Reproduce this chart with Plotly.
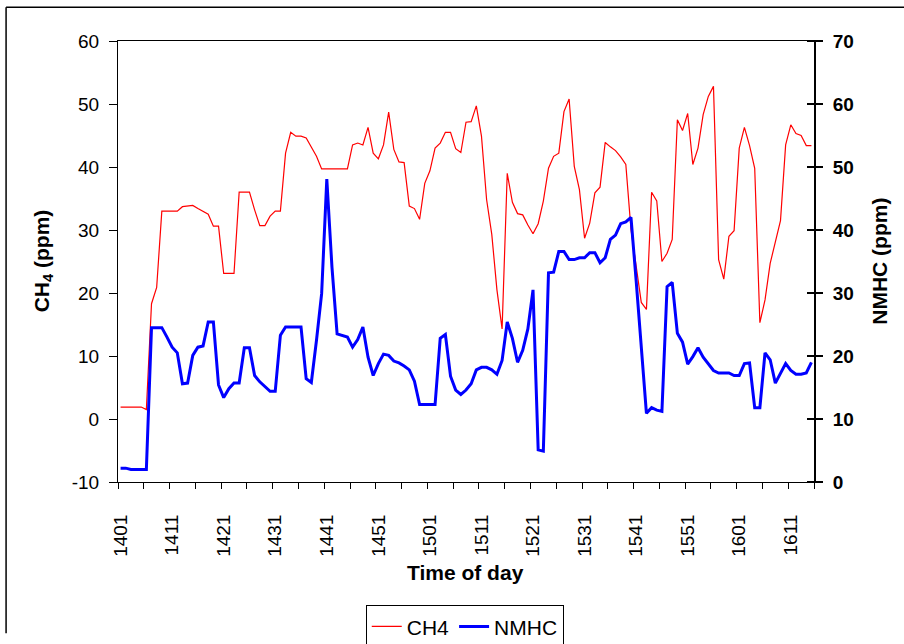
import plotly.graph_objects as go

# ---- data ----
times = [
    "1401","1402","1403","1404","1405","1406","1407","1408","1409","1410",
    "1411","1412","1413","1414","1415","1416","1417","1418","1419","1420",
    "1421","1422","1423","1424","1425","1426","1427","1428","1429","1430",
    "1431","1432","1433","1434","1435","1436","1437","1438","1439","1440",
    "1441","1442","1443","1444","1445","1446","1447","1448","1449","1450",
    "1451","1452","1453","1454","1455","1456","1457","1458","1459","1500",
    "1501","1502","1503","1504","1505","1506","1507","1508","1509","1510",
    "1511","1512","1513","1514","1515","1516","1517","1518","1519","1520",
    "1521","1522","1523","1524","1525","1526","1527","1528","1529","1530",
    "1531","1532","1533","1534","1535","1536","1537","1538","1539","1540",
    "1541","1542","1543","1544","1545","1546","1547","1548","1549","1550",
    "1551","1552","1553","1554","1555","1556","1557","1558","1559","1600",
    "1601","1602","1603","1604","1605","1606","1607","1608","1609","1610",
    "1611","1612","1613","1614","1615",
]

ch4 = [
    1.9, 1.9, 1.9, 1.9, 1.9, 1.5, 18.3, 20.9, 33.0, 33.0,
    33.0, 33.0, 33.7, 33.8, 33.9, 33.4, 33.0, 32.5, 30.6, 30.6,
    23.1, 23.1, 23.1, 36.0, 36.0, 36.0, 33.2, 30.7, 30.7, 32.2,
    33.0, 33.0, 42.2, 45.5, 44.9, 44.9, 44.6, 43.2, 41.7, 39.7,
    39.7, 39.7, 39.7, 39.7, 39.7, 43.5, 43.8, 43.5, 46.3, 42.2,
    41.3, 43.5, 48.7, 42.8, 40.8, 40.7, 33.8, 33.4, 31.7, 37.4,
    39.4, 43.0, 43.8, 45.5, 45.5, 42.9, 42.3, 47.1, 47.2, 49.7,
    44.9, 34.8, 29.3, 20.5, 14.3, 39.0, 34.4, 32.6, 32.4, 30.8,
    29.4, 31.0, 34.6, 39.8, 41.7, 42.2, 48.8, 50.8, 40.1, 36.4,
    28.7, 31.1, 35.9, 36.8, 43.9, 43.2, 42.6, 41.6, 40.4, 30.1,
    24.2, 18.5, 17.4, 36.0, 34.6, 25.0, 26.3, 28.5, 47.5, 45.8,
    48.5, 40.4, 43.0, 48.3, 51.2, 52.8, 25.3, 22.2, 29.0, 29.9,
    43.0, 46.3, 43.4, 39.8, 15.3, 18.9, 24.7, 28.2, 31.5, 43.5,
    46.7, 45.3, 45.0, 43.4, 43.4,
]

nmhc = [
    2.2, 2.2, 2.0, 2.0, 2.0, 2.0, 24.5, 24.5, 24.5, 23.0,
    21.4, 20.5, 15.6, 15.7, 20.1, 21.4, 21.6, 25.4, 25.4, 15.4,
    13.4, 14.8, 15.7, 15.7, 21.3, 21.3, 16.9, 15.9, 15.2, 14.4,
    14.4, 23.3, 24.6, 24.6, 24.6, 24.6, 16.4, 15.8, 22.5, 29.9,
    48.1, 34.1, 23.5, 23.3, 23.0, 21.4, 22.6, 24.6, 19.8, 16.9,
    18.8, 20.3, 20.1, 19.2, 18.9, 18.4, 17.8, 16.0, 12.3, 12.3,
    12.3, 12.3, 22.8, 23.4, 16.8, 14.6, 13.9, 14.6, 15.6, 17.8,
    18.2, 18.2, 17.8, 17.1, 19.3, 25.4, 22.8, 19.0, 20.9, 24.3,
    30.5, 5.1, 4.9, 33.2, 33.3, 36.6, 36.6, 35.3, 35.3, 35.6,
    35.6, 36.4, 36.4, 34.8, 35.6, 38.5, 39.2, 41.0, 41.3, 42.0,
    32.0, 22.0, 10.9, 11.8, 11.4, 11.2, 31.0, 31.7, 23.6, 22.2,
    18.7, 19.9, 21.3, 19.8, 18.8, 17.7, 17.3, 17.3, 17.3, 16.9,
    16.9, 18.8, 18.9, 11.8, 11.8, 20.5, 19.4, 15.7, 17.3, 18.8,
    17.7, 17.1, 17.1, 17.3, 19.0,
]

tick_labels = ["1401", "1411", "1421", "1431", "1441", "1451", "1501",
               "1511", "1521", "1531", "1541", "1551", "1601", "1611"]
left_ticks = [-10, 0, 10, 20, 30, 40, 50, 60]
left_tick_text = ["-10", "0", "10", "20", "30", "40", "50", "60"]
right_ticks = [0, 10, 20, 30, 40, 50, 60, 70]

# ---- layout geometry (pixels) ----
W, H = 904, 644
PL, PR, PT, PB = 118, 814.5, 40.7, 481.7
PW, PH = PR - PL, PB - PT


def px(x):
    return (x - PL) / PW


def py(y):
    return (PB - y) / PH


FONT = "Liberation Sans, Arial, sans-serif"

xs = list(range(len(times)))
tick_pos = [times.index(t) for t in tick_labels]
n = len(times)
boundaries = [k - 0.5 for k in range(0, n + 1, 5)]

fig = go.Figure()
fig.add_trace(go.Scatter(x=xs, y=ch4, name="CH4", mode="lines",
                         line=dict(color="#FF0000", width=1.2), yaxis="y"))
fig.add_trace(go.Scatter(x=xs, y=nmhc, name="NMHC", mode="lines",
                         line=dict(color="#0000FF", width=3), yaxis="y2"))

fig.update_layout(
    width=W, height=H,
    margin=dict(l=PL, r=W - PR, t=PT, b=H - PB, autoexpand=False),
    paper_bgcolor="white", plot_bgcolor="white",
    font=dict(family=FONT, color="black"),
    showlegend=True,
    legend=dict(orientation="h", x=px(465), xanchor="center",
                y=py(605), yanchor="top",
                bordercolor="black", borderwidth=1,
                font=dict(size=21, color="black", family=FONT),
                itemwidth=30, tracegroupgap=0),
    xaxis=dict(
        range=[-0.5, n - 0.5],
        tickmode="array", tickvals=tick_pos, ticktext=tick_labels,
        tickangle=-90, ticks="", ticklabelstandoff=24,
        tickfont=dict(size=19, color="black", family=FONT),
        showline=True, linecolor="black", linewidth=1, mirror=True,
        showgrid=False, zeroline=False,
        minor=dict(tickmode="array", tickvals=boundaries, ticks="outside",
                   ticklen=6, tickwidth=1, tickcolor="black", showgrid=False),
    ),
    yaxis=dict(
        range=[-10, 60], tickmode="array", tickvals=left_ticks,
        ticktext=left_tick_text,
        ticks="outside", ticklen=8, tickwidth=1, tickcolor="black",
        ticklabelstandoff=6,
        tickfont=dict(size=19, color="black", family=FONT),
        showline=True, linecolor="black", linewidth=1,
        showgrid=False, zeroline=False,
    ),
    yaxis2=dict(
        range=[0, 70], overlaying="y", side="right", anchor="x",
        tickmode="array", tickvals=right_ticks,
        ticks="outside", ticklen=7, tickwidth=2, tickcolor="black",
        ticklabelstandoff=6,
        tickfont=dict(size=19, color="black", family=FONT, weight="bold"),
        showline=True, linecolor="black", linewidth=2,
        showgrid=False, zeroline=False,
        minor=dict(tickmode="array", tickvals=right_ticks, ticks="inside",
                   ticklen=7, tickwidth=2, tickcolor="black", showgrid=False),
    ),
)

fig.add_annotation(text="<b>CH<sub>4</sub> (ppm)</b>", xref="paper", yref="paper",
                   x=px(43), y=py(261), textangle=-90, showarrow=False,
                   font=dict(size=21, color="black", family=FONT),
                   xanchor="center", yanchor="middle")
fig.add_annotation(text="<b>NMHC (ppm)</b>", xref="paper", yref="paper",
                   x=px(880), y=py(261), textangle=-90, showarrow=False,
                   font=dict(size=21, color="black", family=FONT),
                   xanchor="center", yanchor="middle")
fig.add_annotation(text="<b>Time of day</b>", xref="paper", yref="paper",
                   x=px(466), y=py(572), showarrow=False,
                   font=dict(size=21, color="black", family=FONT),
                   xanchor="center", yanchor="middle")

# outer chart frame (top and left edges visible in the reference)
fig.add_shape(type="line", xref="paper", yref="paper",
              x0=px(6), y0=py(7), x1=px(910), y1=py(7),
              line=dict(color="black", width=1.5))
fig.add_shape(type="line", xref="paper", yref="paper",
              x0=px(6), y0=py(7), x1=px(6), y1=py(633),
              line=dict(color="black", width=1.5))

fig.write_html("out.html")
